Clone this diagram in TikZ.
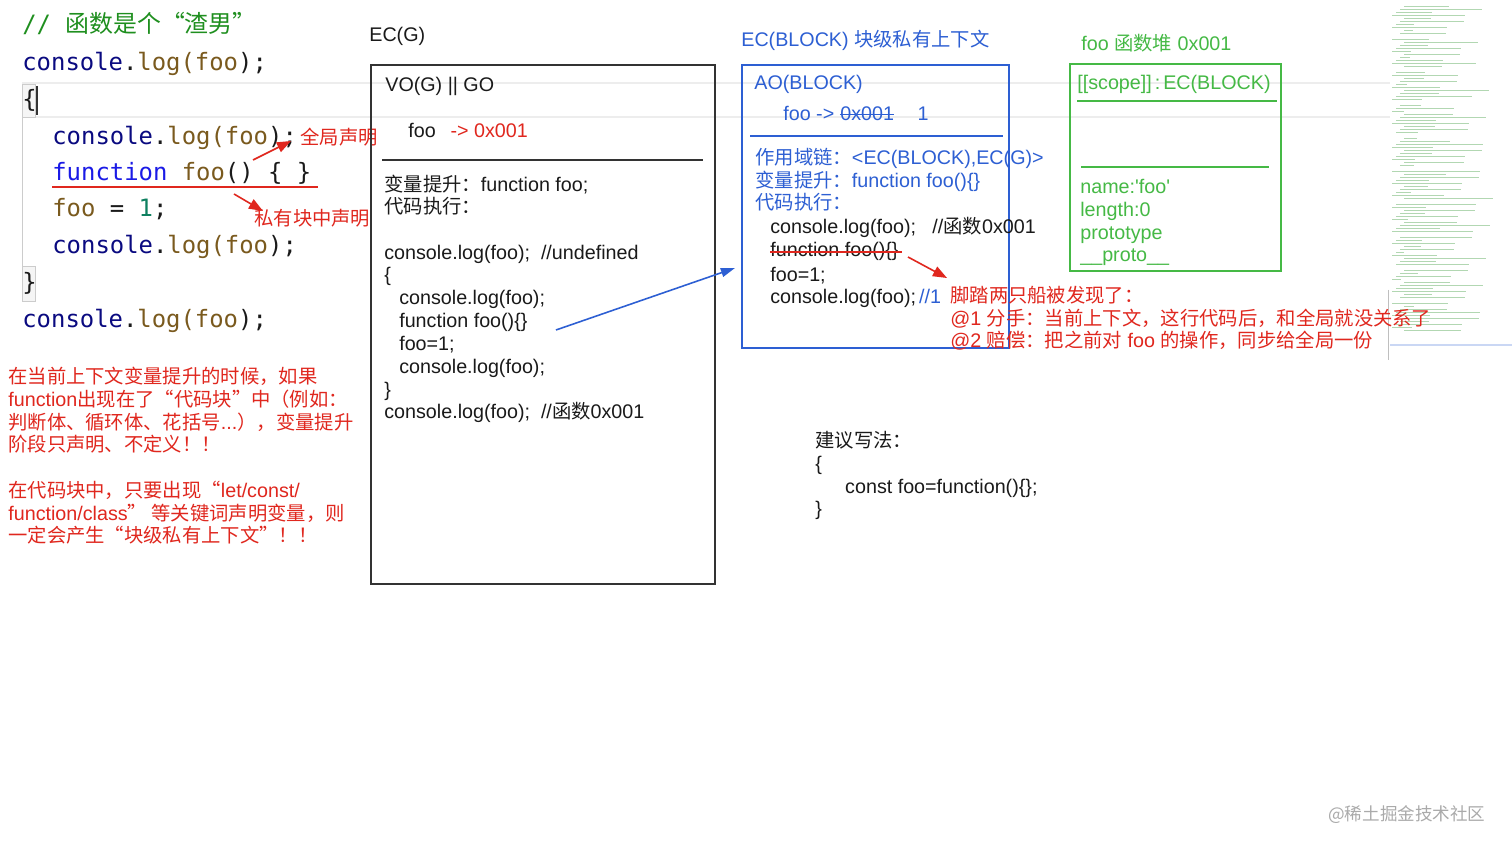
\documentclass[tikz,border=0pt]{standalone}
\usepackage{fontspec}
\usetikzlibrary{arrows.meta}
\newfontfamily\lat{Liberation Sans}[Scale=1.02]
\newfontfamily\zh{Noto Sans CJK SC}
\newfontfamily\code{DejaVu Sans Mono}
\definecolor{ink}{HTML}{1A1A1A}
\definecolor{boxline}{HTML}{333333}
\definecolor{note}{HTML}{E0271E}
\definecolor{blk}{HTML}{2D5FD3}
\definecolor{heap}{HTML}{45B945}
\definecolor{cmt}{HTML}{1F8F1F}
\definecolor{jsObj}{HTML}{0A0A80}
\definecolor{jsFn}{HTML}{7A5A1E}
\definecolor{jsKey}{HTML}{1A1AE6}
\definecolor{jsNum}{HTML}{0E8060}
\definecolor{edit}{HTML}{EDEDED}
\definecolor{mark}{HTML}{AAAAAA}
\newcommand\bodysize{\fontsize{11pt}{13pt}\selectfont}
\newcommand\codesize{\fontsize{13.6pt}{16pt}\selectfont}
\newcommand\clog{\textcolor{jsObj}{console}.\textcolor{jsFn}{log(foo});}
\tikzset{
  txt/.style={anchor=base west, inner sep=0pt, align=left, font=\lat\bodysize, text=ink},
  codeln/.style={anchor=base west, inner sep=0pt, font=\code\codesize, text=ink},
  ctxbox/.style={rectangle, inner sep=0pt, anchor=north west, line width=1pt},
  rarr/.style={draw=note, line width=0.9pt, -{Triangle[length=8pt, width=6pt]}},
  barr/.style={draw=blk, line width=0.9pt, -{Triangle[length=8pt, width=5pt]}}
}
\begin{document}
\begin{tikzpicture}[x=0.02cm, y=-0.02cm]
\useasboundingbox[fill=white] (0,0) rectangle (1512,847);

% ---------------- editor traces ----------------
\draw[edit, line width=1pt] (22,83) -- (1390,83);
\draw[edit, line width=1pt] (22,117) -- (1390,117);
\draw[gray!40, fill=gray!8] (22,84) rectangle (35,117);
\draw[gray!40, fill=gray!8] (22,266) rectangle (35,301);
\draw[gray!40] (22,117) -- (22,266);
\draw[black!80, line width=1.2pt] (37,86) -- (37,115);
\foreach \i in {0,...,110} {
  \pgfmathsetmacro\len{mod(\i*37,83)+8}
  \pgfmathsetmacro\ind{mod(\i*7,4)*4}
  \pgfmathtruncatemacro\gap{mod(\i,11)}
  \ifnum\gap>0
    \draw[heap!70!gray, line width=0.5pt, opacity=0.45] (1392+\ind,3+3*\i) -- ++(\len,0);
  \fi
}
\draw[gray!50] (1388,290) -- (1388,360);
\draw[blk!25, line width=1pt] (1390,345) -- (1512,345);

% ---------------- code ----------------
\node[codeln, text=cmt] (cmt) at (22,33) {// {\zh 函数是个“渣男”}};
\node[codeln] (c1) at (22,71) {\clog};
\node[codeln] (c2) at (22,108) {\{};
\node[codeln] (c3) at (52,145) {\clog};
\node[codeln] (c4) at (52,181) {\textcolor{jsKey}{function} \textcolor{jsFn}{foo}() \{ \}};
\node[codeln] (c5) at (52,217) {\textcolor{jsFn}{foo} = \textcolor{jsNum}{1};};
\node[codeln] (c6) at (52,254) {\clog};
\node[codeln] (c7) at (22,291) {\}};
\node[codeln] (c8) at (22,328) {\clog};
\draw[note, line width=1pt] (52,187) -- (318,187);

\node[txt, text=note] (glob) at (300,145) {\zh 全局声明};
\node[txt, text=note] (priv) at (254,226) {\zh 私有块中声明};
\coordinate (g1) at (253,160);
\coordinate (g2) at (291,141);
\coordinate (p1) at (234,194);
\coordinate (p2) at (263,211);
\draw[rarr] (g1) -- (g2);
\draw[rarr] (p1) -- (p2);

% multi-line nodes sit on their last baseline
\node[txt, text=note] (rule1) at (8,452)
  {{\zh 在当前上下文变量提升的时候，如果}\\function{\zh 出现在了“代码块”中（例如：}\\{\zh 判断体、循环体、花括号}...{\zh ），变量提升}\\{\zh 阶段只声明、不定义！！}};
\node[txt, text=note] (rule2) at (8,543)
  {{\zh 在代码块中，只要出现“}let/const/\\function/class{\zh ” 等关键词声明变量，则}\\{\zh 一定会产生“块级私有上下文”！！}};

% ---------------- EC(G) ----------------
\node[txt] (ecg) at (369,42) {EC(G)};
\node[ctxbox, draw=boxline, minimum width=6.88cm, minimum height=10.38cm] (gbox) at (370,64) {};
\node[txt] (vog) at (385,92) {VO(G) || GO};
\node[txt] (gfoo) at (408,138) {foo\hspace{0.75em}\textcolor{note}{-> 0x001}};
\draw[boxline, line width=1pt] (382,160) -- (703,160);
\node[txt] (ghoist) at (384,214) {{\zh 变量提升：}function foo;\\{\zh 代码执行：}};
\node[txt] (grun) at (384,419)
  {console.log(foo);\ \ //undefined\\\{\\\hspace*{8.5pt}console.log(foo);\\\hspace*{8.5pt}function foo()\{\}\\\hspace*{8.5pt}foo=1;\\\hspace*{8.5pt}console.log(foo);\\\}\\console.log(foo);\ \ //{\zh 函数}0x001};

% ---------------- EC(BLOCK) ----------------
\node[txt, text=blk] (ecb) at (741,47) {EC(BLOCK) {\zh 块级私有上下文}};
\node[ctxbox, draw=blk, minimum width=5.34cm, minimum height=5.66cm] (bbox) at (741,64) {};
\node[txt, text=blk] (aob) at (754,90) {AO(BLOCK)};
\node[txt, text=blk] (bfoo) at (783,121) {foo ->};
\node[txt, text=blk] (bold) at ([xshift=3pt]bfoo.base east) {0x001};
\node[txt, text=blk] (bnew) at ([xshift=13pt]bold.base east) {1};
\draw[blk, line width=0.8pt] (bold.west) -- (bold.east);
\draw[blk, line width=1pt] (750,136) -- (1003,136);
\node[txt, text=blk] (bscope) at (755,210)
  {{\zh 作用域链：}<EC(BLOCK),EC(G)>\\{\zh 变量提升：}function foo()\{\}\\{\zh 代码执行：}};
\node[txt] (brun1) at (770,234) {console.log(foo);\ \ \ //{\zh 函数}0x001};
\node[txt] (bstrike) at (770,257) {function foo()\{\}};
\draw[note, line width=0.9pt] (bstrike.west) -- ([xshift=2pt]bstrike.east);
\node[txt] (brun2) at (770,304) {foo=1;\\console.log(foo);\hspace{0.15em}\textcolor{blk}{//1}};

\coordinate (fnsrc) at (556,330);
\coordinate (fndst) at (735,268);
\draw[barr] (fnsrc) -- (fndst);

\coordinate (s1) at (908,257);
\coordinate (s2) at (947,278);
\draw[rarr] (s1) -- (s2);
\node[txt, text=note] (twoboats) at (950,348)
  {{\zh 脚踏两只船被发现了：}\\@1 {\zh 分手：当前上下文，这行代码后，和全局就没关系了}\\@2 {\zh 赔偿：把之前对} foo {\zh 的操作，同步给全局一份}};

% ---------------- heap ----------------
\node[txt, text=heap] (heapt) at (1081,51) {foo {\zh 函数堆} 0x001};
\node[ctxbox, draw=heap, minimum width=4.22cm, minimum height=4.14cm] (hbox) at (1069,63) {};
\node[txt, text=heap] (hscope) at (1077,90) {[[scope]]\hspace{0.15em}:\hspace{0.15em}EC(BLOCK)};
\draw[heap, line width=1pt] (1077,101) -- (1277,101);
\draw[heap, line width=1pt] (1081,167) -- (1269,167);
\node[txt, text=heap] (hprops) at (1080,262) {name:'foo'\\length:0\\prototype\\\_\_proto\_\_};

% ---------------- advice ----------------
\node[txt] (advice) at (815,516) {{\zh 建议写法：}\\\{\\\hspace*{17pt}const foo=function()\{\};\\\}};

\node[txt, text=mark, font=\zh\fontsize{10pt}{12pt}\selectfont] (wm) at (1328,820) {@稀土掘金技术社区};
\end{tikzpicture}
\end{document}
